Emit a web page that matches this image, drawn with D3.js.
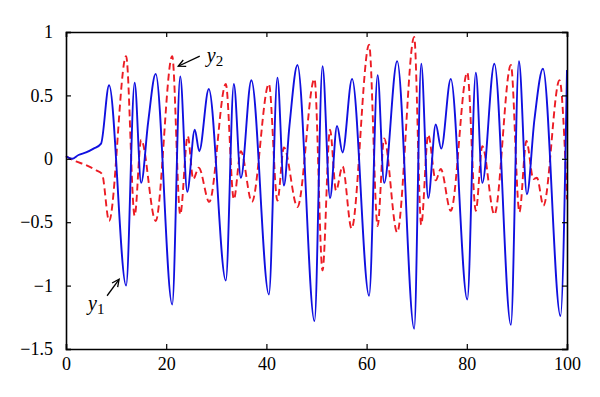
<!DOCTYPE html>
<html>
<head>
<meta charset="utf-8">
<script src="https://cdn.jsdelivr.net/npm/d3@7"></script>
<style>
  body { margin: 0; background: #fff; }
  text { font-family: "Liberation Serif", "DejaVu Serif", serif; }
</style>
</head>
<body>
<div id="main"></div>
<script>
// y1 (blue, solid) - turning points
const tY1 = [0, 1.2, 2.5, 4, 5.5, 7.0, 8.6, 12.0, 13.7, 15.0, 16.4, 17.9, 21.2, 22.8, 24.2, 25.7, 26.6, 28.5,
  31.9, 33.5, 34.9, 37.0, 40.5, 42.2, 43.5, 44.6, 46.2, 49.6, 51.2, 52.7, 54.1, 55.2, 57.1, 60.5, 62.2, 63.5,
  66.1, 69.5, 70.9, 72.3, 73.8, 74.9, 76.8, 80.1, 81.8, 83.1, 85.5, 88.8, 90.4, 92.0, 93.5, 95.2, 98.7, 100];
const y1 = [0.02, 0.0, 0.03, 0.05, 0.08, 0.12, 0.58, -1.0, 0.60, -0.19, 0.29, 0.67, -1.15, 0.65, -0.26, 0.23, 0.06, 0.55,
  -0.96, 0.59, -0.15, 0.62, -1.07, 0.64, -0.21, 0.26, 0.74, -1.28, 0.73, -0.31, 0.26, 0.05, 0.63, -1.08, 0.66, -0.19,
  0.77, -1.34, 0.75, -0.31, 0.27, 0.08, 0.63, -1.11, 0.68, -0.19, 0.75, -1.31, 0.77, -0.28, 0.31, 0.71, -1.24, 0.70];

// y2 (red, dashed)
const tY2 = [0, 2, 4, 6, 7.2, 8.6, 12.0, 13.7, 15.0, 17.9, 21.2, 22.8, 24.3, 25.4, 26.5, 28.6, 31.9, 33.5, 34.9,
  37.1, 40.5, 42.2, 43.5, 46.2, 49.6, 51.2, 52.7, 53.9, 55.2, 57.0, 60.5, 62.2, 63.5, 66.1, 69.5, 70.9, 72.3,
  73.8, 74.8, 76.8, 80.1, 81.8, 83.1, 85.5, 88.8, 90.5, 91.9, 93.3, 94.0, 95.3, 98.5, 100];
const y2 = [0.02, -0.02, -0.05, -0.09, -0.12, -0.49, 0.81, -0.45, 0.15, -0.49, 0.81, -0.44, 0.18, -0.16, -0.07, -0.34, 0.59, -0.32, 0.06,
  -0.34, 0.59, -0.33, 0.09, -0.38, 0.63, -0.88, 0.23, -0.25, -0.06, -0.55, 0.90, -0.53, 0.16, -0.58, 0.96, -0.52, 0.19,
  -0.17, -0.08, -0.41, 0.68, -0.41, 0.10, -0.44, 0.74, -0.42, 0.14, -0.16, -0.15, -0.37, 0.62, -0.32];

const xTicks = [0, 20, 40, 60, 80, 100];
const yTicks = [1, 0.5, 0, -0.5, -1, -1.5];

const width = 600, height = 397;
const margin = {left: 66, right: 33, top: 32, bottom: 48};

const svg = d3.select('#main').append('svg').attr('width', width).attr('height', height);

const x = d3.scaleLinear().domain([0, 100]).range([margin.left, width - margin.right]);
const y = d3.scaleLinear().domain([-1.5, 1]).range([height - margin.bottom, margin.top]);

const fmt = d => d < 0 ? '\u2212' + Math.abs(d) : String(d);

// curves
const line = d3.line().x(d => x(d[0])).y(d => y(d[1])).curve(d3.curveMonotoneX);

svg.append('path')
  .datum(d3.zip(tY2, y2))
  .attr('d', line)
  .attr('fill', 'none')
  .attr('stroke', '#ec1c24')
  .attr('stroke-width', 1.9)
  .attr('stroke-dasharray', '7,4');

svg.append('path')
  .datum(d3.zip(tY1, y1))
  .attr('d', line)
  .attr('fill', 'none')
  .attr('stroke', '#1010e0')
  .attr('stroke-width', 1.9);

// axes, box with inward ticks on all sides
const tick = 5;
svg.append('g').attr('transform', `translate(0,${y(-1.5)})`)
  .call(d3.axisBottom(x).tickValues(xTicks).tickSize(-tick).tickPadding(8).tickFormat(fmt));
svg.append('g').attr('transform', `translate(0,${y(1)})`)
  .call(d3.axisTop(x).tickValues(xTicks).tickSize(-tick).tickFormat(''));
svg.append('g').attr('transform', `translate(${x(0)},0)`)
  .call(d3.axisLeft(y).tickValues(yTicks).tickSize(-tick).tickPadding(13).tickFormat(fmt));
svg.append('g').attr('transform', `translate(${x(100)},0)`)
  .call(d3.axisRight(y).tickValues(yTicks).tickSize(-tick).tickFormat(''));

svg.selectAll('.domain').attr('stroke', '#000').attr('stroke-width', 1.6);
svg.selectAll('.tick line').attr('stroke', '#000').attr('stroke-width', 1.2);
svg.selectAll('.tick text').attr('font-size', 18).attr('fill', '#000')
  .style('font-family', '"Liberation Serif", serif');

// annotations with open arrows
function arrow(x1, y1a, x2, y2a) {
  const px1 = x(x1), py1 = y(y1a), px2 = x(x2), py2 = y(y2a);
  const ang = Math.atan2(py2 - py1, px2 - px1);
  const h = 8, spread = 0.45;
  svg.append('line').attr('x1', px1).attr('y1', py1).attr('x2', px2).attr('y2', py2)
    .attr('stroke', '#000').attr('stroke-width', 1.3);
  svg.append('path')
    .attr('d', `M${px2 - h * Math.cos(ang - spread)},${py2 - h * Math.sin(ang - spread)}L${px2},${py2}L${px2 - h * Math.cos(ang + spread)},${py2 - h * Math.sin(ang + spread)}`)
    .attr('fill', 'none').attr('stroke', '#000').attr('stroke-width', 1.3);
}
function label(t, v, sub) {
  const g = svg.append('text').attr('x', x(t)).attr('y', y(v)).attr('font-size', 20).attr('fill', '#000');
  g.append('tspan').attr('font-style', 'italic').text('y');
  g.append('tspan').attr('font-size', 15).attr('dy', 4).text(sub);
}

arrow(26.7, 0.81, 22.4, 0.73);
label(28.1, 0.76, '2');
arrow(8.2, -1.08, 10.6, -0.95);
label(4.4, -1.19, '1');
</script>
</body>
</html>
